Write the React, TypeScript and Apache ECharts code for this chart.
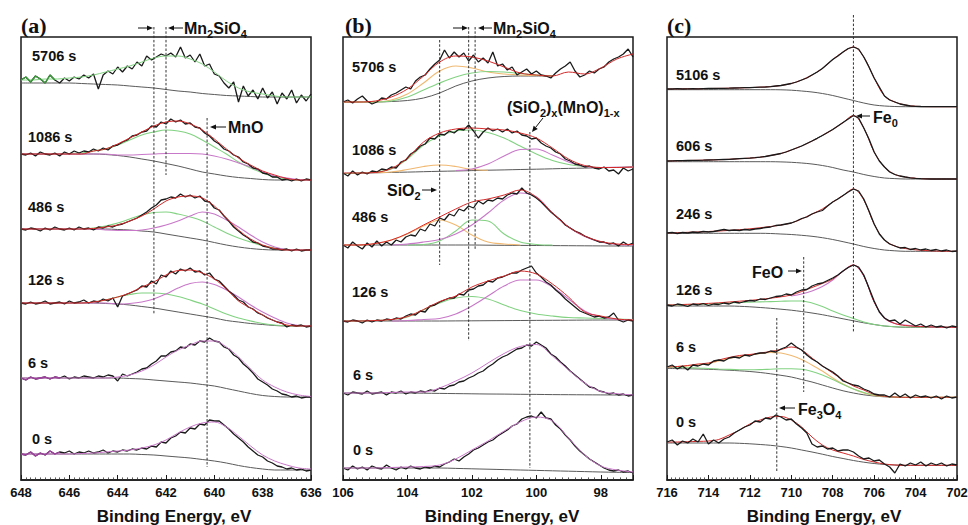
import React, { useEffect, useRef } from 'react';
import * as echarts from 'echarts';

// ---------- energy sampling (eV) ----------
const energies = (start: number, step: number, n: number) =>
  Array.from({ length: n }, (_, i) => Math.round((start - step * i) * 1000) / 1000);
const aE = energies(648, 0.2, 61);
const aEs = energies(648, 0.5, 25);
const bE = energies(106, 0.15, 61);
const bEs = energies(106, 0.5, 19);
const cE = energies(716, 0.25, 57);
const cEs = energies(716, 0.5, 29);

// ---------- labels & stacking offsets ----------
const aLabels = ['5706 s', '1086 s', '486 s', '126 s', '6 s', '0 s'];
const aOffsets = [400, 326, 251, 177, 102, 26];
const bLabels = ['5706 s', '1086 s', '486 s', '126 s', '6 s', '0 s'];
const bOffsets = [378, 307, 235, 159, 87, 12];
const cLabels = ['5106 s', '606 s', '246 s', '126 s', '6 s', '0 s'];
const cOffsets = [391, 319, 247, 175, 113, 38];

// ---------- (a) Mn 2p raw spectra ----------
const aN5706 = [0,3,-2,4,1,-3,5,0,-3,2, -1,3,1,5,2,6,-9,5,9,6, 13,8,14,11,18,14,24,20,23,26, 24,27,23,33,22,25,18,26,14,16, 6,4,-3,-8,-2,-22,-6,-16,-10,-19, -8,-18,-12,-24,-13,-19,-10,-23,-15,-21, -14];
const aN1086 = [0,-1,1,-2,2,0,-1,1,-2,2, 0,3,1,3,2,5,3,6,4,8, 9,12,14,18,19,22,23,28,27,32, 30,35,32,34,30,31,27,26,21,18, 13,10,5,3,-1,-3,-8,-10,-14,-15, -19,-20,-23,-23,-26,-25,-27,-25,-27,-25, -26];
const aN486 = [0,-1,1,0,-2,1,-1,2,0,-1, 1,-1,2,0,1,-1,2,1,3,2, 4,5,7,9,11,14,17,21,24,29, 30,32,31,35,32,34,31,33,28,27, 21,19,13,8,2,-2,-6,-9,-13,-14, -17,-18,-20,-20,-21,-20,-22,-20,-22,-21, -21];
const aN126 = [0,-1,1,-1,0,2,-1,0,1,-1, 2,0,1,3,0,2,1,4,2,5, -4,7,9,11,13,17,16,22,19,28, 26,32,29,34,32,35,31,32,28,30, 24,22,17,12,8,3,1,-4,-6,-10, -12,-15,-17,-19,-20,-24,-22,-23,-22,-24, -23];
const aN6 = [0,-2,1,-1,0,1,-1,1,0,2, -1,1,0,2,1,0,2,1,3,2, -3,4,2,4,6,9,10,14,17,22, 22,26,27,31,30,34,33,37,36,40, 37,36,31,29,23,20,14,10,5,-1, -4,-7,-11,-13,-16,-17,-19,-18,-20,-19, -19];
const aN0 = [0,-1,2,-2,1,-1,3,0,2,1, 3,0,2,1,3,1,2,4,1,3, 2,4,3,5,4,6,5,8,7,12, 11,16,18,22,21,26,25,30,29,34, 33,33,29,25,20,16,12,7,3,-1, -3,-7,-9,-12,-13,-15,-14,-16,-15,-17, -16];
// (a) fitted curves
const aGreen5706 = [0,0,1,1,2,3,5,8,11,14,18,22,24,24,21,16,8,-1,-8,-12,-14,-16,-17,-17,-17];
const aBg5706 = [-3,-3,-3,-3,-3,-3.5,-4,-4.5,-5,-6,-7,-8,-9.5,-11,-12,-13.5,-14.5,-15.5,-16,-16.5,-17,-17,-17,-17,-17];
const aFit1086 = [0,0,0,0,0,0,3,5,10,16,22,28,32,33,30,24,15,5,-4,-11,-17,-21,-24.5,-26,-26];
const aGreen1086 = [0,0,0,0,0.5,1,3,5,9,14,19,22,24,23,20,14,7,0,-8,-14,-19,-23,-25,-26,-26];
const aMag1086 = [0,0,0,0,0,0,0,0,-1,-1,-0.5,0,0.5,0.5,0.5,0,-2,-5,-9,-13,-18,-22,-24,-25.5,-26];
const aBg1086 = [0,0,0,0,0,0,0,-0.5,-1.5,-3,-5,-7,-9.5,-12,-15,-18,-20,-22,-23.5,-24.5,-25.5,-26,-26,-26,-26];
const aFit486 = [0,0,0,0,0,0,0.5,2,4,8,13,20,28,32,33,31,23,11,-1,-10,-16,-19.5,-21,-21,-21];
const aGreen486 = [0,0,0,0,0,0,1,3,6,10,14,16.5,17,15,12,8,2,-4,-9,-13,-16.5,-19,-20.5,-21,-21];
const aMag486 = [0,0,0,0,0,0,0,-1,-1.5,-1.5,-1,1,4,8,13,17,15,9,2,-6,-13,-18,-20.5,-21,-21];
const aBg486 = [0,0,0,0,0,0,0,0,-0.5,-1,-2,-3,-5,-7,-9,-11,-13.5,-16,-18,-19.5,-20.5,-21,-21,-21,-21];
const aFit126 = [0,0,0,0,0,0,1,3,6,10,16,21,28,32.5,33,30,24,14,2,-5,-12,-18,-22,-23,-23];
const aGreen126 = [0,0,0,0,0,0,1,3,6,8.5,10,10,9,6.5,3,-1,-6,-11,-15,-18,-20.5,-22,-23,-23,-23];
const aMag126 = [0,0,0,0,0,0,0,0,-1,-0.5,1,4,9,15,19.5,21,18.5,13,6,-2,-9,-15,-20,-22.5,-23];
const aBg126 = [0,0,0,0,0,0,0,-0.5,-1,-2,-3.5,-5,-7,-9,-11,-13,-15,-17.5,-19,-20.5,-21.5,-22.5,-23,-23,-23];
const aMag6 = [0,0,0,0,0,0,0,0,1,3,7,13,21,28,33,37,37,31,21,9,-2,-9,-14,-17,-18.5];
const aBg6 = [0,0,0,0,0,0,0,0,0,-0.5,-1,-2,-3,-4,-5,-6.5,-8,-10.5,-13,-15.5,-17.5,-18.5,-19,-19,-19];
const aMag0 = [0,0,0,0,0,0.5,1,2,3,4,6,9,14,21,27,31,32,27,18,8,-1,-7,-11,-14,-15];
const aBg0 = [0,0,0,0,0,0,0,0,0,0,-0.5,-1,-2,-3,-4,-5.5,-7,-9,-11.5,-13.5,-15,-16,-16,-16,-16];

// ---------- (b) Si 2p raw spectra ----------
const bN5706 = [0,2,-1,3,6,1,-2,0,4,3, 7,9,12,15,13,21,25,27,33,38, 42,52,44,50,45,49,41,47,40,44, 39,50,36,38,32,35,27,30,33,28, 31,27,26,24,29,33,36,40,31,25, 27,31,29,33,35,40,43,45,48,53, 45];
const bN1086 = [0,-3,2,-2,1,-1,2,1,4,3, 6,5,11,13,19,22,27,29,35,34, 39,38,42,40,44,43,48,42,35,41, 45,42,44,41,44,40,42,38,37,34, 35,30,27,25,21,19,14,12,9,8, 6,7,5,4,6,2,3,-1,5,2, 4];
const bN486 = [0,-3,3,-1,-4,2,-2,4,-1,3, 0,5,3,8,10,9,16,14,21,19, 27,25,31,29,36,34,39,37,44,41, 45,44,47,46,50,52,51,57,52,50, 47,43,38,33,29,25,20,17,14,12, 9,7,5,3,3,1,2,-1,3,0, 2];
const bN126 = [0,-1,1,0,-2,1,-1,1,0,2, 1,3,2,5,7,6,10,9,15,16, 19,21,23,23,27,26,31,32,35,36, 40,39,43,44,46,48,48,51,53,55, 48,44,39,36,31,27,22,18,14,10, 8,6,4,5,3,4,8,1,-1,1, 0];
const bN6 = [0,-2,1,0,-1,2,-1,0,1,-2, 1,0,2,-1,1,0,2,1,3,2, 5,4,7,8,11,12,15,17,20,22, 26,29,33,36,38,41,44,45,48,47, 51,48,45,39,36,31,27,22,18,14, 10,6,5,2,1,-1,0,-2,-1,-3, -2];
const bN0 = [0,-2,2,-1,1,-2,2,0,-1,3, 0,-2,1,-1,2,0,-1,1,0,2, 1,4,6,9,7,11,14,18,20,23, 26,28,32,35,38,42,44,49,51,52, 50,56,50,49,43,39,33,28,22,17, 13,9,6,3,0,-2,-3,-2,-4,-3, -5];
// (b) fitted curves
const bFit5706 = [0,0,1,5,13,26,40,46,45,41,35,29,27,26,30,28,34,43,48];
const bOrange5706 = [0,0,0,2,8,19,31,36,34,30,28,27,26.5,26,null,null,null,null,null];
const bGreen5706 = [0,0,0,1,5,12,19,25,29,30.5,30,28.5,27,26.5,null,null,null,null,null];
const bBg5706 = [0,0,0,0.5,1.5,4,9,16,21,24,25.5,26,26,26,null,null,null,null,null];
const bFit1086 = [0,0,0.5,4.5,15,31,40,44,45,44,43,40,35,25,14,7.5,5.5,5.5,6];
const bOrange1086 = [null,null,0.3,1,3.5,6.5,8,6.5,3.5,2.8,null,null,null,null,null,null,null,null,null];
const bGreen1086 = [-0.5,0,1,4,14,28,37,42,43,40.5,35,27,19,12.5,8.5,6.5,5.5,5.5,6];
const bMag1086 = [null,null,null,null,null,null,null,2.5,4,9,17,23.5,24,18,11,6.5,5.5,5.7,6];
const bBg1086 = [-0.5,-0.1,0.2,0.6,0.9,1.3,1.7,2,2.4,2.8,3.1,3.5,3.8,4.2,4.6,4.9,5.3,5.6,6];
const bFit486 = [0,0,1.5,5,11.5,20,28,36,43,46,50,55,48,32,18,9,3.5,1,0.5];
const bOrange486 = [0,0,1.5,5,11,19,25,20,10,3,1,0,null,null,null,null,null,null,null];
const bGreen486 = [null,null,null,null,0,0.5,4,14,25,24,11,3,0.5,0,null,null,null,null,null];
const bMag486 = [null,null,null,0,1,3,5.5,11,20,32,45,52,48,32,18,8.5,3,0.5,0];
const bBg486 = [0,0,0,0,0,0,0,0,0,-0.2,-0.3,-0.4,-0.5,-0.6,-0.7,-0.8,-0.9,-1,-1];
const bFit126 = [0,0,0.5,1.5,4.5,11.5,19.5,25,34,40,45,50,47,37,24,9,5,2,1];
const bGreen126 = [0,0,0.5,1.5,4,11,18,23,24.5,22,16,10.5,7,5,3.5,3,2.5,2,1.5];
const bMag126 = [null,null,null,0,0.5,1.5,2.5,7,15,25,35,41,41,34,22,10,4,1.5,1];
const bBg126 = [0,0,0,0,0,0,0,0.1,0.2,0.3,0.4,0.5,0.6,0.7,0.8,0.9,1,1,1];
const bMag6 = [0,0,0,0.5,1,1,5,12,20,30,39.5,46.5,48.5,37,23,10,1.5,-0.7,-2];
const bBg6 = [0,0,0,0,0,-0.2,-0.4,-0.6,-0.8,-1,-1.1,-1.3,-1.4,-1.6,-1.7,-1.8,-1.9,-2,-2];
const bMag0 = [0,0,0,0.5,1,1.5,3,9,18,27,37,46,51,47,30,13,2,-2,-4];
const bBg0 = [0,0,0,0,0,0,0,-0.4,-0.8,-1.2,-1.6,-2,-2.4,-2.8,-3.2,-3.6,-4,-4.3,-4.5];

// ---------- (c) Fe 2p raw spectra ----------
const cN5106 = [0,0,0.3,0,0.2,0.3,0.2,0.4,0.5,0.5, 0.6,0.7,0.8,1,1.1,1.3,1.4,1.6,1.8,2, 2.4,3,3.5,4.5,5.5,7,9,11,14,17, 20.5,25,29.5,33,37,40.5,42,40,32,22, 11,2,-7,-11,-13,-15,-16,-17,-17.3,-17.5, -17.6,-17.7,-17.7,-17.7,-17.7,-17.7,-17.7];
const cN606 = [0,0.2,0.3,0.3,0.5,0.6,0.7,0.8,1,1.1, 1.3,1.5,1.7,2,2.3,2.6,2.9,3.3,3.8,4.5, 5.5,6.5,7.5,9,11,13,15,17.5,20,22.7, 25.5,28.5,31.5,35,38.5,42,45.5,43,33,22, 9,0,-6,-11,-13.5,-15,-16,-16.8,-17.3,-17.6, -17.8,-18,-18,-18,-18,-18,-18];
const cN246 = [0,0.5,-0.5,0.5,0,1,0.5,1.5,1,1.5, 2.5,3.5,2.5,3,2.5,3.5,3,4,4.5,5.5, 6,7.5,8,9,10,12,14.5,16,19,21, 22.5,27,31,34,37.5,41,44,42,34,22, 9,-1,-7,-11,-13,-15,-14.5,-16.5,-15.5,-17, -16,-17.5,-16.5,-18,-17,-18.5,-18];
const cN126 = [0,-1,1,0,-1.5,1,0,1.5,-0.5,1, 0.5,2,1,3,2,3.5,4.5,4,6,5.5, 7,8.5,9,11,10,13,15,15.5,19,21, 22,24.5,27,30,34,37.5,40,38,30,17, 4,-7,-13,-16,-15,-19,-15,-18,-21,-19, -22,-20,-22,-21,-23,-21,-22];
const cN6 = [0,2,-2,1,-3,2,1,3,2,6, 7,6,9,10,9,12,11,13,14,14, 16,15,18,20,24,20,17,12,8,5, 1,-2,-5,-9,-14,-16,-18,-19,-22,-24, -27,-28,-28,-30,-26,-30,-27,-31,-28,-30, -29,-31,-29,-32,-29,-31,-30];
const cN0 = [0,2,-3,1,-1,3,0,8,-2,2, -1,3,5,9,12,15,17,21,20,24, 23,27,25,22,23,18,14,9,-2,-5, -4,-7,-6,-9,-8,-8,-10,-14,-17,-16, -19,-18,-22,-25,-31,-22,-24,-21,-23,-20, -24,-21,-23,-21,-24,-22,-23];
// (c) fitted curves
const cFit5106 = [0,0.2,0.3,0.3,0.5,0.6,0.8,1.1,1.4,1.8,2.4,3.5,5.5,9,14,20.5,29.5,37,42,32,11,-7,-13,-16,-17.3,-17.6,-17.7,-17.7,-17.7];
const cBg5106 = [-0.7,-0.7,-0.7,-0.7,-0.7,-0.7,-0.7,-0.7,-0.7,-0.7,-0.7,-0.8,-1.2,-2,-3,-4.5,-6.5,-9,-11.5,-14,-16,-17,-17.5,-17.7,-17.7,-17.7,-17.7,-17.7,-17.7];
const cFit606 = [0,0.3,0.5,0.7,1,1.3,1.7,2.3,2.9,3.8,5.5,7.5,11,15,20,25.5,31.5,38.5,45.5,33,9,-6,-13.5,-16,-17.3,-17.8,-18,-18,-18];
const cBg606 = [-0.7,-0.7,-0.7,-0.7,-0.7,-0.7,-0.7,-0.7,-0.7,-0.7,-0.7,-0.9,-1.3,-2,-3,-4.5,-6.5,-9,-11,-13.5,-15.5,-17,-17.6,-18,-18,-18,-18,-18,-18];
const cFit246 = [0,0.3,0.7,1,1.5,2,2.6,3.3,4.2,5.3,6.5,8,10,14,19,24,31,37.5,44,33,9,-7,-13,-15.5,-16.8,-17.5,-18,-18.2,-18.3];
const cBg246 = [-0.3,-0.3,-0.3,-0.3,-0.3,-0.3,-0.3,-0.3,-0.3,-0.3,-0.5,-1,-1.5,-2.3,-3.3,-4.7,-6.5,-8.7,-11,-13.5,-15.5,-17,-17.8,-18.3,-18.3,-18.3,-18.3,-18.3,-18.3];
const cFit126 = [0,0.3,0.7,1.1,1.6,2.2,3,3.8,4.6,5.6,6.8,8.2,10,13.5,17.5,21.5,26,34,40,29,3,-13,-18.5,-20.5,-21.3,-21.7,-22,-22.2,-22.3];
const cMag126 = [null,null,null,null,null,null,null,null,null,null,null,null,9,11,14,18.5,25,34,40,29,3,-13,-18.5,-20,-21,-21.5,-22,-22.2,-22.3];
const cGreen126 = [0,0,0.3,0.7,1,1.5,2,2.5,2.8,3.1,3.4,3.7,4,4,2,-1.5,-6,-10,-13.5,-17,-19.5,-21,-21.7,-22,-22,-22,-22,-22,-22];
const cBg126 = [-1,-1,-1,-1,-1,-1,-1,-1.3,-1.8,-2.5,-3.3,-4.2,-5.2,-6.5,-8,-9.7,-11.7,-13.8,-15.8,-17.8,-19.5,-21,-21.8,-22.3,-22.3,-22.3,-22.3,-22.3,-22.3];
const cFit6 = [0,0.5,1.5,3,4,7,9.5,11.5,12.5,14,15.5,17.5,20,17,9,1,-6,-13,-19,-23,-27.5,-29.3,-30,-30.3,-30.3,-30.3,-30.3,-30.3,-30.3];
const cOrange6 = [0,0.5,1,2,3.5,6,8.5,10.5,12,13.5,14.5,14,11.5,7.5,2,-4,-11,-17,-22,-26,-28.5,-29.5,-30,-30.3,-30.3,-30.3,-30.3,-30.3,-30.3];
const cGreen6 = [0,-0.3,-0.7,-1,-1.5,-2,-2.4,-2.7,-2.8,-2.6,-2.2,-1.8,-1.8,-2.3,-4.5,-8,-12.5,-17.5,-22,-25.5,-28,-29.3,-30,-30.3,-30.3,-30.3,-30.3,-30.3,-30.3];
const cBg6 = [-1.5,-1.6,-1.8,-2,-2.3,-2.7,-3.2,-3.8,-4.5,-5.5,-6.8,-8.3,-10,-12.5,-15,-18,-21,-23.8,-26,-27.8,-29,-29.8,-30.3,-30.5,-30.5,-30.5,-30.5,-30.5,-30.5];
const cFit0 = [0,0,0.3,0.6,1,2.5,7,12,18,22,25,25.5,22,15,5,-3,-8,-11,-14,-17.5,-20,-22,-23,-23.3,-23.3,-23.3,-23.3,-23.3,-23.3];
const cBg0 = [-1,-1,-1,-1,-1,-1,-1,-1.3,-1.8,-2.5,-3.3,-4.5,-6,-8,-10,-12.2,-14.5,-16.5,-18.5,-20.2,-21.5,-22.5,-23,-23.3,-23.3,-23.3,-23.3,-23.3,-23.3];

// ---------- reference (dotted) lines: [eV, from, to] ----------
const aRefLines = [[642.5, 453, 165], [642.0, 453, 305], [640.3, 362, 13]];
const bRefLines = [[103.0, 440, 215], [102.1, 453, 139], [101.9, 453, 230], [100.2, 348, 12]];
const cRefLines = [[707.0, 465, 148], [709.4, 223, 88], [710.7, 162, 8]];

// ---------- styling ----------
const INK = '#1a1a1a';
const RED = '#d42a2a';
const GREEN = '#82d282';
const MAG = '#c878c8';
const ORANGE = '#f0b870';
const BGC = '#5a5a5a';
const SANS = '"Liberation Sans", Arial, Helvetica, sans-serif';
const SERIF = '"Liberation Serif", "Times New Roman", serif';

type Curve = (number | null)[];
type Spec = { data: number[]; bg: Curve; comps: [Curve, string][]; fit: Curve; fitColor?: string; edge?: [number, string] };

const aSpecs: Spec[] = [
  { data: aN5706, bg: aBg5706, comps: [], fit: aGreen5706, fitColor: GREEN, edge: [8, '#3a9a3a'] },
  { data: aN1086, bg: aBg1086, comps: [[aGreen1086, GREEN], [aMag1086, MAG]], fit: aFit1086 },
  { data: aN486, bg: aBg486, comps: [[aGreen486, GREEN], [aMag486, MAG]], fit: aFit486 },
  { data: aN126, bg: aBg126, comps: [[aGreen126, GREEN], [aMag126, MAG]], fit: aFit126 },
  { data: aN6, bg: aBg6, comps: [], fit: aMag6, fitColor: MAG, edge: [9, '#a040a0'] },
  { data: aN0, bg: aBg0, comps: [], fit: aMag0, fitColor: MAG, edge: [9, '#a040a0'] },
];
const bSpecs: Spec[] = [
  { data: bN5706, bg: bBg5706, comps: [[bOrange5706, ORANGE], [bGreen5706, GREEN]], fit: bFit5706 },
  { data: bN1086, bg: bBg1086, comps: [[bOrange1086, ORANGE], [bGreen1086, GREEN], [bMag1086, MAG]], fit: bFit1086 },
  { data: bN486, bg: bBg486, comps: [[bOrange486, ORANGE], [bGreen486, GREEN], [bMag486, MAG]], fit: bFit486 },
  { data: bN126, bg: bBg126, comps: [[bGreen126, GREEN], [bMag126, MAG]], fit: bFit126 },
  { data: bN6, bg: bBg6, comps: [], fit: bMag6, fitColor: MAG },
  { data: bN0, bg: bBg0, comps: [], fit: bMag0, fitColor: MAG },
];
const cSpecs: Spec[] = [
  { data: cN5106, bg: cBg5106, comps: [], fit: cFit5106 },
  { data: cN606, bg: cBg606, comps: [], fit: cFit606 },
  { data: cN246, bg: cBg246, comps: [], fit: cFit246 },
  { data: cN126, bg: cBg126, comps: [[cGreen126, GREEN], [cMag126, MAG]], fit: cFit126 },
  { data: cN6, bg: cBg6, comps: [[cOrange6, ORANGE], [cGreen6, GREEN]], fit: cFit6 },
  { data: cN0, bg: cBg0, comps: [], fit: cFit0 },
];

// layout (pixels)
const GRID_LEFT = [21, 343, 667];
const GRID_W = 290;
const TOP = 37;
const PLOT_H = 443;
const aLabelPos = [[32, 56], [28, 137], [28, 207], [28, 280], [28, 363], [32, 439]];
const bLabelPos = [[352, 67], [352, 150], [352, 217], [352, 292], [353, 375], [353, 450]];
const cLabelPos = [[676, 75], [676, 146], [676, 214], [676, 290], [676, 347], [676, 422]];

function pairs(xs: number[], ys: Curve, off: number) {
  return xs.map((x, i) => (ys[i] == null ? [x, '-'] : [x, (ys[i] as number) + off]));
}
function line(g: number, xs: number[], ys: Curve, off: number, color: string, width: number, z: number, smooth: number | boolean) {
  return {
    type: 'line', xAxisIndex: g, yAxisIndex: g, data: pairs(xs, ys, off), symbol: 'none', showSymbol: false,
    smooth, connectNulls: false, lineStyle: { color, width }, z, silent: true, animation: false,
  };
}

function buildSeries() {
  const series: any[] = [];
  const panels: [Spec[], number[], number[], number[], boolean][] = [
    [aSpecs, aOffsets, aE, aEs, true],
    [bSpecs, bOffsets, bE, bEs, true],
    [cSpecs, cOffsets, cE, cEs, false],
  ];
  panels.forEach(([specs, offs, E, Es, fitOnTop], g) => {
    specs.forEach((s, k) => {
      const off = offs[k];
      series.push(line(g, Es, s.bg, off, BGC, 1, 2, 0.35));
      s.comps.forEach(([ys, col]) => series.push(line(g, Es, ys, off, col, 1.1, 3, 0.35)));
      series.push(line(g, Es, s.fit, off, s.fitColor || RED, 1, fitOnTop ? 6 : 4, 0.35));
      series.push(line(g, E, s.data, off, INK, 1.3, 5, false));
      if (s.edge) {
        const [n, col] = s.edge;
        series.push(line(g, E.slice(0, n), s.data.slice(0, n), off, col, 1.3, 7, false));
      }
    });
  });
  [aRefLines, bRefLines, cRefLines].forEach((lines, g) => {
    lines.forEach(([x, y1, y2]) => {
      series.push({
        type: 'line', xAxisIndex: g, yAxisIndex: g, data: [[x, y1], [x, y2]], symbol: 'none', clip: false,
        lineStyle: { color: '#333', width: 1, type: [2.5, 1.8] }, z: 8, silent: true, animation: false,
      });
    });
  });
  return series;
}

function xAxis(g: number, min: number, max: number, interval: number | undefined, shift: number) {
  const ax: any = {
    gridIndex: g, type: 'value', min, max, inverse: true,
    axisLine: { show: true, onZero: false, lineStyle: { color: INK, width: 1.5 } },
    axisTick: { show: true, inside: true, length: 5, lineStyle: { color: INK, width: 1 } },
    minorTick: { show: true, splitNumber: 10, length: 2.6, lineStyle: { color: '#333', width: 0.8 } },
    splitLine: { show: false },
    minorSplitLine: { show: false },
    axisLabel: {
      color: '#111', fontSize: 13, fontWeight: 'bold', fontFamily: SANS, margin: 6,
      formatter: (v: number) => (Math.abs(v % 2) < 1e-6 ? String(v) : ''),
    },
    name: 'Binding Energy, eV', nameLocation: 'middle', nameGap: 28,
    nameTextStyle: { color: '#111', fontSize: 17, fontWeight: 'bold', fontFamily: SANS, padding: [0, 0, 0, shift] },
  };
  if (interval) ax.interval = interval; else ax.splitNumber = 5;
  return ax;
}

function txt(x: number, y: number, text: string, font: string) {
  return {
    type: 'text', x, y, silent: true, z: 20,
    style: { text, font, fill: '#111', align: 'left', textAlign: 'left', verticalAlign: 'middle', textVerticalAlign: 'middle' },
  };
}
function chem(x: number, y: number, parts: [string, boolean][]) {
  const text = parts.map(([t, sub]) => `{${sub ? 's' : 'm'}|${t}}`).join('');
  return {
    type: 'text', x, y, silent: true, z: 20,
    style: {
      text, fill: '#111', align: 'left', textAlign: 'left', verticalAlign: 'middle', textVerticalAlign: 'middle',
      rich: {
        m: { fontSize: 16, fontWeight: 'bold', fontFamily: SANS, fill: '#111', color: '#111', lineHeight: 22 },
        s: { fontSize: 11, fontWeight: 'bold', fontFamily: SANS, fill: '#111', color: '#111', lineHeight: 11, verticalAlign: 'bottom' },
      },
    },
  };
}
function arrow(x1: number, y1: number, x2: number, y2: number) {
  const dx = x2 - x1, dy = y2 - y1;
  const len = Math.sqrt(dx * dx + dy * dy) || 1;
  const ux = dx / len, uy = dy / len;
  const bx = x2 - ux * 6, by = y2 - uy * 6;
  const px = -uy * 2.6, py = ux * 2.6;
  return [
    { type: 'line', silent: true, z: 20, shape: { x1, y1, x2: bx, y2: by }, style: { stroke: '#111', lineWidth: 1 } },
    { type: 'polygon', silent: true, z: 20, shape: { points: [[x2, y2], [bx + px, by + py], [bx - px, by - py]] }, style: { fill: '#111' } },
  ];
}

function buildGraphics() {
  const g: any[] = [];
  const titleFont = `bold 22px ${SERIF}`;
  g.push(txt(21, 25, '(a)', titleFont), txt(345, 25, '(b)', titleFont), txt(667, 25, '(c)', titleFont));
  const labFont = `bold 14.5px ${SANS}`;
  aLabels.forEach((l, i) => g.push(txt(aLabelPos[i][0], aLabelPos[i][1], l, labFont)));
  bLabels.forEach((l, i) => g.push(txt(bLabelPos[i][0], bLabelPos[i][1], l, labFont)));
  cLabels.forEach((l, i) => g.push(txt(cLabelPos[i][0], cLabelPos[i][1], l, labFont)));
  // (a)
  g.push(chem(184, 28, [['Mn', false], ['2', true], ['SiO', false], ['4', true]]));
  g.push(...arrow(138, 28, 153, 28), ...arrow(183, 28, 168, 28));
  g.push(chem(228, 127, [['MnO', false]]));
  g.push(...arrow(226, 127, 210, 127));
  // (b)
  g.push(chem(493, 28, [['Mn', false], ['2', true], ['SiO', false], ['4', true]]));
  g.push(...arrow(453, 28, 468, 28), ...arrow(492, 28, 478, 28));
  g.push(chem(507, 107, [['(SiO', false], ['2', true], [')', false], ['x', true], ['(MnO)', false], ['1-x', true]]));
  g.push(...arrow(543, 118, 532, 132));
  g.push(chem(387, 190, [['SiO', false], ['2', true]]));
  g.push(...arrow(422, 190, 437, 190));
  // (c)
  g.push(chem(873, 117, [['Fe', false], ['0', true]]));
  g.push(...arrow(870, 116, 856, 116));
  g.push(chem(752, 272, [['FeO', false]]));
  g.push(...arrow(788, 271, 802, 271));
  g.push(chem(798, 409, [['Fe', false], ['3', true], ['O', false], ['4', true]]));
  g.push(...arrow(795, 408, 779, 408));
  return g;
}

export default function App() {
  const ref = useRef<HTMLDivElement>(null);
  useEffect(() => {
    if (!ref.current) return;
    const chart = echarts.init(ref.current, undefined, { renderer: 'svg' });
    const grids = GRID_LEFT.map((left) => ({
      left, top: TOP, width: GRID_W, height: PLOT_H, show: true, borderColor: INK, borderWidth: 1.5,
      backgroundColor: 'transparent', containLabel: false, outerBoundsMode: 'none',
    }));
    chart.setOption({
      animation: false,
      backgroundColor: '#ffffff',
      grid: grids,
      xAxis: [xAxis(0, 636, 648, 2, 16), xAxis(1, 97, 106, undefined, 28), xAxis(2, 702, 716, 2, 24)],
      yAxis: [0, 1, 2].map((g) => ({ gridIndex: g, type: 'value', min: 0, max: PLOT_H, show: false })),
      series: buildSeries(),
      graphic: buildGraphics(),
    });
    return () => chart.dispose();
  }, []);
  return <div ref={ref} style={{ position: 'absolute', left: 0, top: 0, width: 968, height: 525, background: '#fff' }} />;
}
